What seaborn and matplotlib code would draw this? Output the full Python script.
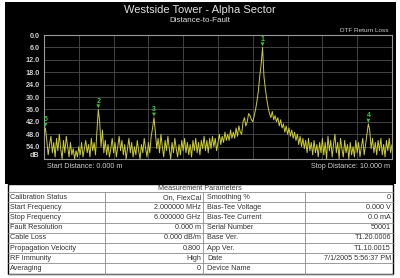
import numpy as np
import pandas as pd
import matplotlib
matplotlib.use('Agg')
import matplotlib.pyplot as plt
import seaborn as sns
from matplotlib.patches import Rectangle

# trace samples every 0.04 m, return loss in dB
dist = [round(i * 0.04, 2) for i in range(251)]
rl_db = [
    48, 45, 51, 58, 53, 49, 57, 52, 59, 50, 56, 48, 55, 60, 51, 57, 49, 54, 59, 52, 58, 55, 60, 56, 59,
    54, 58, 52, 59, 55, 51, 57, 53, 59, 50, 56, 52, 58, 47, 36, 42, 54, 46, 57, 51, 58, 53, 59, 55, 50,
    57, 52, 59, 54, 49, 56, 51, 58, 53, 60, 55, 50, 57, 52, 59, 54, 58, 51, 56, 60, 53, 57, 50, 55, 59,
    52, 57, 49, 45, 40, 47, 55, 50, 57, 48, 54, 59, 51, 56, 49, 55, 60, 52, 57, 50, 55, 59, 53, 58, 51,
    56, 50, 57, 52, 58, 53, 59, 51, 56, 50, 57, 52, 58, 51, 55, 49, 56, 51, 57, 50, 55, 49, 54, 50, 56,
    52, 48, 53, 49, 52, 47, 51, 48, 51, 46, 50, 47, 50, 45, 49, 44, 47, 48, 42, 40, 44, 42, 38, 39, 41,
    42, 39, 36, 32, 27, 20, 14, 6, 20, 26, 31, 35, 38, 40, 37, 41, 39, 42, 40, 44, 41, 45, 43, 47, 44,
    48, 45, 49, 46, 50, 47, 51, 48, 53, 49, 54, 50, 55, 51, 57, 50, 56, 52, 58, 51, 57, 53, 59, 52, 57,
    50, 58, 52, 60, 49, 56, 51, 59, 53, 48, 57, 52, 60, 50, 55, 59, 51, 57, 53, 60, 52, 58, 54, 59, 51,
    57, 52, 59, 54, 50, 58, 53, 48, 43, 46, 55, 50, 57, 52, 58, 51, 56, 50, 58, 53, 59, 51, 56, 50, 57,
    53,
]

marker_ids = ['1', '2', '3', '4', '5']
marker_dist = [6.28, 1.56, 3.16, 9.32, 0.04]
marker_db = [6, 36, 40, 43, 45]

y_ticks = [0, 6, 12, 18, 24, 30, 36, 42, 48, 54]

param_left = ['Calibration Status', 'Start Frequency', 'Stop Frequency', 'Fault Resolution',
              'Cable Loss', 'Propagation Velocity', 'RF Immunity', 'Averaging']
value_left = ['On, FlexCal', '2.000000 MHz', '6.000000 GHz', '0.000 m',
              '0.000 dB/m', '0.800', 'High', '0']
param_right = ['Smoothing %', 'Bias-Tee Voltage', 'Bias-Tee Current', 'Serial Number',
               'Base Ver.', 'App Ver.', 'Date', 'Device Name']
value_right = ['0', '0.000 V', '0.0 mA', '50001', 'T1.20.0006', 'T1.10.0015',
               '7/1/2005 5:56:37 PM', '']

sns.set_theme(style='dark')
plt.rcParams['font.family'] = ['Liberation Sans', 'DejaVu Sans']

fig = plt.figure(figsize=(4, 2.78), dpi=100)
fig.patch.set_facecolor('white')

# pixel overlay for the frame, titles and the table
bg = fig.add_axes([0, 0, 1, 1], zorder=0)
bg.set_xlim(0, 400)
bg.set_ylim(278, 0)
bg.axis('off')
bg.add_patch(Rectangle((5, 2), 391, 182, facecolor='black', edgecolor='none'))
bg.text(200, 10, 'Westside Tower - Alpha Sector', color='#e0e0e0', fontsize=8,
        ha='center', va='center')
bg.text(200, 21, 'Distance-to-Fault', color='#e0e0e0', fontsize=5.8, ha='center', va='center')
bg.text(388, 30, 'DTF Return Loss', color='#cccccc', fontsize=4.6, ha='right', va='center')
bg.text(47, 166, 'Start Distance: 0.000 m', color='#cccccc', fontsize=5.2, ha='left', va='center')
bg.text(390, 166, 'Stop Distance: 10.000 m', color='#cccccc', fontsize=5.2, ha='right', va='center')

# table
tx0, tx1, cols = 8, 393, [8, 105, 203, 305, 393]
top, head_h, row_h = 184, 8, 10.2
bg.add_patch(Rectangle((tx0, top), tx1 - tx0, head_h + row_h * 8, facecolor='white',
                       edgecolor='black', lw=1))
bg.text(200, top + head_h / 2 + 0.5, 'Measurement Parameters', color='#333333', fontsize=5.2,
        ha='center', va='center')
for i in range(9):
    yy = top + head_h + row_h * i
    bg.plot([tx0, tx1], [yy, yy], color='#8c8c8c', lw=0.6)
for cx in cols[1:-1]:
    bg.plot([cx, cx], [top + head_h, top + head_h + row_h * 8], color='#8c8c8c', lw=0.6)
for i in range(8):
    yc = top + head_h + row_h * (i + 0.5)
    bg.text(cols[0] + 2, yc, param_left[i], color='#333333', fontsize=5.2, ha='left', va='center')
    bg.text(cols[2] - 2, yc, value_left[i], color='#333333', fontsize=5.2, ha='right', va='center')
    bg.text(cols[2] + 4, yc, param_right[i], color='#333333', fontsize=5.2, ha='left', va='center')
    bg.text(cols[4] - 2, yc, value_right[i], color='#333333', fontsize=5.2, ha='right', va='center')

# trace plot
ax = fig.add_axes([44 / 400, 1 - 159 / 278, 348 / 400, 124 / 278], zorder=2)
ax.set_facecolor('black')
df = pd.DataFrame({'dist': dist, 'rl': rl_db})
sns.lineplot(data=df, x='dist', y='rl', ax=ax, color='#cfcf2a', lw=0.7)
mk = pd.DataFrame({'dist': marker_dist, 'rl': [v - 1.5 for v in marker_db]})
sns.scatterplot(data=mk, x='dist', y='rl', ax=ax, marker='v', color='#3fbf3f', s=8,
                edgecolor='none', zorder=5)
for lab, d, v in zip(marker_ids, marker_dist, marker_db):
    ax.text(d, v - 4, lab, color='#3fcf3f', fontsize=5, fontweight='bold',
            ha='center', va='center', zorder=6)

ax.set_xlim(0, 10)
ax.set_ylim(60, 0)
ax.set_xticks(np.arange(0, 10.1, 1))
ax.set_yticks(y_ticks)
ax.set_yticklabels([f'{t:.1f}' for t in y_ticks])
ax.set_xticklabels([])
ax.tick_params(axis='y', colors='#cfcfcf', labelsize=5.2, length=0, pad=3)
ax.tick_params(axis='x', length=0)
for lbl in ax.get_yticklabels():
    lbl.set_fontweight('bold')
ax.grid(True, color='#4d4d4d', lw=0.6)
for s in ax.spines.values():
    s.set_color('#9a9a9a')
    s.set_linewidth(0.8)
ax.set_xlabel('')
ax.set_ylabel('')
ax.text(-0.012, 58.5, 'dB', transform=ax.get_yaxis_transform(), color='#cfcfcf', fontsize=5.2,
        fontweight='bold', ha='right', va='center')

fig.savefig('out.png', dpi=100, facecolor=fig.get_facecolor())
